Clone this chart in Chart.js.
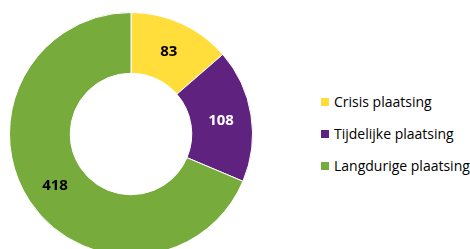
<!DOCTYPE html>
<html>
<head>
<meta charset="utf-8">
<script src="https://cdn.jsdelivr.net/npm/chart.js@4"></script>
<style>
    html, body {
        margin: 0;
        padding: 0;
        width: 470px;
        height: 249px;
        overflow: hidden;
        background: #ffffff;
        font-family: 'Open Sans', sans-serif;
    }
    #donut-wrap {
        position: absolute;
        left: 9px;
        top: 12px;
        width: 244px;
        height: 244px;
    }
    #legend {
        position: absolute;
        left: 321px;
        top: 86px;
    }
    .legend-item {
        display: flex;
        align-items: center;
        height: 32px;
        line-height: 32px;
        font-size: 14px;
        color: #000000;
        white-space: nowrap;
    }
    .legend-box {
        width: 8px;
        height: 8px;
        margin-right: 5px;
    }
</style>
</head>
<body>
<div id="donut-wrap"><canvas id="donut"></canvas></div>
<div id="legend"></div>
<script>
// plaatsingen per soort
const categories = ['Crisis plaatsing', 'Tijdelijke plaatsing', 'Langdurige plaatsing'];
const values = [83, 108, 418];
const sliceColors = ['#FFDD3B', '#5F237F', '#77AB3B'];
const labelColors = ['#000000', '#ffffff', '#000000'];

// waarden in de ring schrijven
const sliceLabels = {
    id: 'sliceLabels',
    afterDatasetsDraw(chart) {
        const ctx = chart.ctx;
        const meta = chart.getDatasetMeta(0);
        ctx.save();
        ctx.font = 'bold 15px "Open Sans"';
        ctx.textAlign = 'center';
        ctx.textBaseline = 'middle';
        meta.data.forEach((arc, i) => {
            const pos = arc.tooltipPosition();
            ctx.fillStyle = labelColors[i];
            ctx.fillText(String(values[i]), pos.x, pos.y + 1);
        });
        ctx.restore();
    }
};

const donutChart = new Chart(document.getElementById('donut'), {
    type: 'doughnut',
    data: {
        labels: categories,
        datasets: [{
            data: values,
            backgroundColor: sliceColors,
            borderColor: '#ffffff',
            borderWidth: 1
        }]
    },
    options: {
        responsive: true,
        maintainAspectRatio: false,
        animation: false,
        cutout: '50%',
        layout: { padding: 0 },
        plugins: {
            legend: { display: false },
            tooltip: { enabled: false }
        }
    },
    plugins: [sliceLabels]
});

// legenda naast de grafiek
const legendEl = document.getElementById('legend');
categories.forEach((name, i) => {
    const item = document.createElement('div');
    item.className = 'legend-item';
    const box = document.createElement('span');
    box.className = 'legend-box';
    box.style.background = sliceColors[i];
    const text = document.createElement('span');
    text.textContent = name;
    item.appendChild(box);
    item.appendChild(text);
    legendEl.appendChild(item);
});
</script>
</body>
</html>
